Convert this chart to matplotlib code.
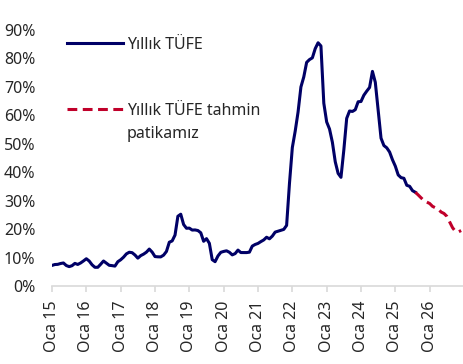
import numpy as np
import matplotlib

matplotlib.use('Agg')
from matplotlib import pyplot as plt

# yillik TUFE, Oca 15 - Agu 25 (aylik, %)
tufe = [7.24, 7.55, 7.61, 7.91, 8.09, 7.20, 6.81, 7.14, 7.95, 7.58, 8.10, 8.81,
        9.58, 8.78, 7.46, 6.57, 6.58, 7.64, 8.79, 8.05, 7.28, 7.16, 7.00, 8.53,
        9.22, 10.13, 11.29, 11.87, 11.72, 10.90, 9.79, 10.68, 11.20, 11.90, 12.98, 11.92,
        10.35, 10.26, 10.23, 10.85, 12.15, 15.39, 15.85, 17.90, 24.52, 25.24, 21.62, 20.30,
        20.35, 19.67, 19.71, 19.50, 18.71, 15.72, 16.65, 15.01, 9.26, 8.55, 10.56, 11.84,
        12.15, 12.37, 11.86, 10.94, 11.39, 12.62, 11.76, 11.77, 11.75, 11.89, 14.03, 14.60,
        14.97, 15.61, 16.19, 17.14, 16.59, 17.53, 18.95, 19.25, 19.58, 19.89, 21.31, 36.08,
        48.69, 54.44, 61.14, 69.97, 73.50, 78.62, 79.60, 80.21, 83.45, 85.51, 84.39, 64.27,
        57.68, 55.18, 50.51, 43.68, 39.59, 38.21, 47.83, 58.94, 61.53, 61.36, 61.98, 64.77,
        64.86, 67.07, 68.50, 69.80, 75.45, 71.60, 61.78, 51.97, 49.38, 48.58, 47.09, 44.38,
        42.12, 39.05, 38.10, 37.86, 35.41, 35.05, 33.52, 32.95]

# tahmin patikasi, Agu 25 - Ara 26
tahmin = [32.95, 32.0, 31.0, 30.0, 29.5, 29.0, 28.0, 27.5, 27.0, 26.0, 25.5,
          24.5, 22.5, 20.5, 19.2, 19.0, 19.5]

yil_etiket = ['Oca 15', 'Oca 16', 'Oca 17', 'Oca 18', 'Oca 19', 'Oca 20',
              'Oca 21', 'Oca 22', 'Oca 23', 'Oca 24', 'Oca 25', 'Oca 26']
y_ticks = [0, 10, 20, 30, 40, 50, 60, 70, 80, 90]

plt.rcParams['font.family'] = ['Noto Sans', 'DejaVu Sans']
plt.rcParams['font.size'] = 11.5
txt_color = '#262626'
grey = '#d9d9d9'

fig = plt.figure(figsize=(4.64, 3.64), dpi=100)
ax = fig.add_axes([52 / 464, 78 / 364, 412 / 464, 256 / 364])

x1 = np.arange(len(tufe))
x2 = np.arange(len(tufe) - 1, len(tufe) - 1 + len(tahmin))

l1, = ax.plot(x1, tufe, color='#000066', linewidth=2.2, solid_joinstyle='round')
l2, = ax.plot(x2, tahmin, color='#c0002a', linewidth=2.2, dashes=(3.2, 1.8))

ax.set_xlim(0, 144)
ax.set_ylim(0, 90)
ax.set_xticks(np.arange(0, 12 * len(yil_etiket), 12))
ax.set_xticklabels(yil_etiket, rotation=90, color=txt_color)
ax.set_yticks(y_ticks)
ax.set_yticklabels([f"{v}%" for v in y_ticks], color=txt_color)

for s in ['top', 'right', 'left']:
    ax.spines[s].set_visible(False)
ax.spines['bottom'].set_color(grey)
ax.spines['bottom'].set_linewidth(1.2)
ax.tick_params(axis='x', direction='out', length=4.5, width=1.2, color=grey, pad=6)
ax.tick_params(axis='y', length=0, pad=12)

leg1 = ax.legend([l1], ['Yıllık TÜFE'], loc='center left',
                 bbox_to_anchor=(67 / 464, 1 - 45 / 364), bbox_transform=fig.transFigure,
                 frameon=False, borderpad=0, borderaxespad=0, handlelength=3.5,
                 handletextpad=0.25, labelcolor=txt_color)
ax.add_artist(leg1)
ax.legend([l2], ['Yıllık TÜFE tahmin'], loc='center left',
          bbox_to_anchor=(67 / 464, 1 - 111 / 364), bbox_transform=fig.transFigure,
          frameon=False, borderpad=0, borderaxespad=0, handlelength=3.5,
          handletextpad=0.25, labelcolor=txt_color)
fig.text(127 / 464, 1 - 134 / 364, 'patikamız', va='center', ha='left', color=txt_color)

fig.savefig('out.png', dpi=100)
